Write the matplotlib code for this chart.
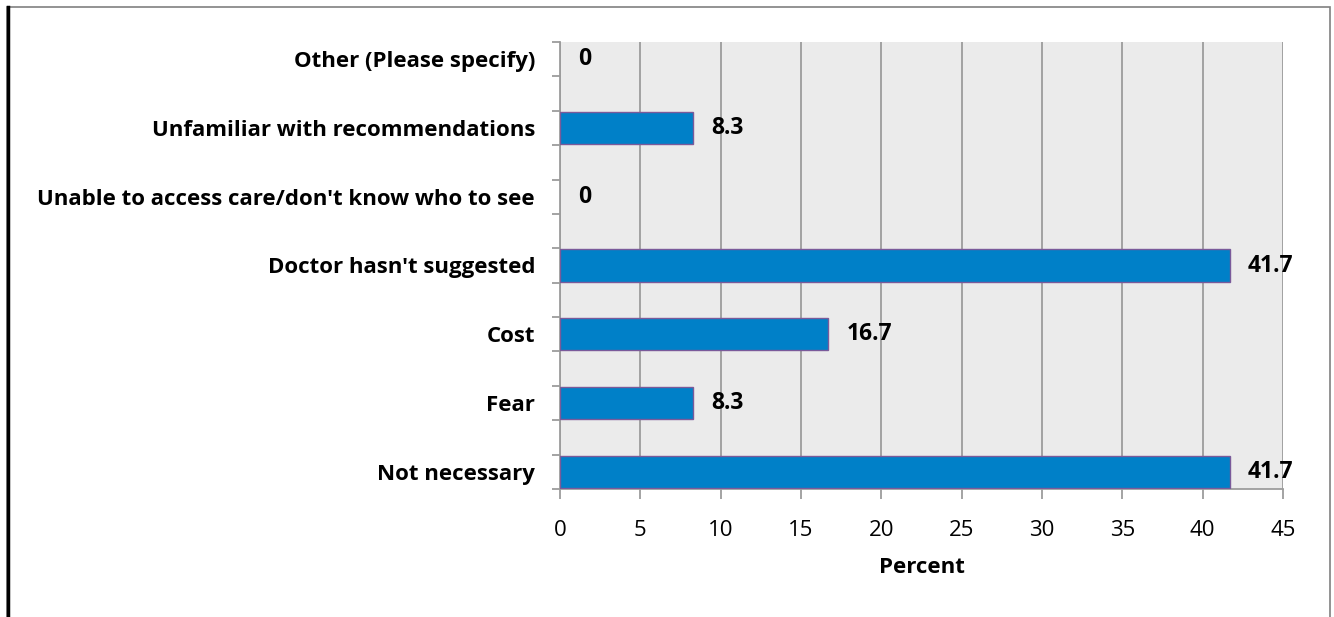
import matplotlib.pyplot as plt
from matplotlib.patches import Rectangle
import numpy as np

plt.rcParams['font.family'] = ['Open Sans', 'DejaVu Sans']

categories = ["Not necessary", "Fear", "Cost", "Doctor hasn't suggested",
              "Unable to access care/don't know who to see",
              "Unfamiliar with recommendations", "Other (Please specify)"]
values = [41.7, 8.3, 16.7, 41.7, 0, 8.3, 0]
value_labels = ["41.7", "8.3", "16.7", "41.7", "0", "8.3", "0"]
xticks = [0, 5, 10, 15, 20, 25, 30, 35, 40, 45]

fig = plt.figure(figsize=(13.34, 6.17), dpi=100)
ax = fig.add_axes([560/1334, 1-489/617, 723/1334, 447/617])

# each category sits in every other slot (blank slots between)
ypos = np.arange(len(categories)) * 2
ax.set_facecolor('#EBEBEB')
ax.barh(ypos, values, height=0.94, color='#0080C8', edgecolor='#7A5A9A',
        linewidth=[1.0 if v > 0 else 0 for v in values], zorder=3)

for y, v, lab in zip(ypos, values, value_labels):
    ax.annotate(lab, (v, y), xytext=(18, 0), textcoords='offset pixels',
                ha='left', va='center', fontsize=16.5, fontweight='bold', zorder=4)

ax.set_xlim(0, 45)
ax.set_ylim(-0.5, ypos[-1] + 0.5)
ax.set_xticks(xticks)
ax.set_xticklabels([str(t) for t in xticks], fontsize=16)
ax.xaxis.grid(True, color='#9C9C9C', linewidth=1.3, zorder=1)

ax.set_yticks(ypos)
ax.set_yticklabels(categories, fontsize=16, fontweight='bold')
ax.tick_params(axis='y', length=0, pad=18)
ax.set_yticks(np.arange(-0.5, ypos[-1] + 1, 1.0), minor=True)
ax.tick_params(axis='y', which='minor', length=6, width=1.3, color='#9C9C9C')
ax.tick_params(axis='x', length=7, width=1.3, color='#9C9C9C', pad=15)

for s in ['top', 'right']:
    ax.spines[s].set_visible(False)
for s in ['left', 'bottom']:
    ax.spines[s].set_color('#9C9C9C')
    ax.spines[s].set_linewidth(1.3)

ax.set_xlabel('Percent', fontsize=16, fontweight='bold', labelpad=12)

# outer chart frame
fig.patches.append(Rectangle((7/1334, -0.05), 1323/1334, 1.05 - 7/617,
                             transform=fig.transFigure, fill=False,
                             edgecolor='#808080', linewidth=1.2))
fig.lines.append(plt.Line2D([8/1334, 8/1334], [0, 1 - 7/617],
                            transform=fig.transFigure, color='black', linewidth=2.5))

fig.savefig('out.png', dpi=100)
